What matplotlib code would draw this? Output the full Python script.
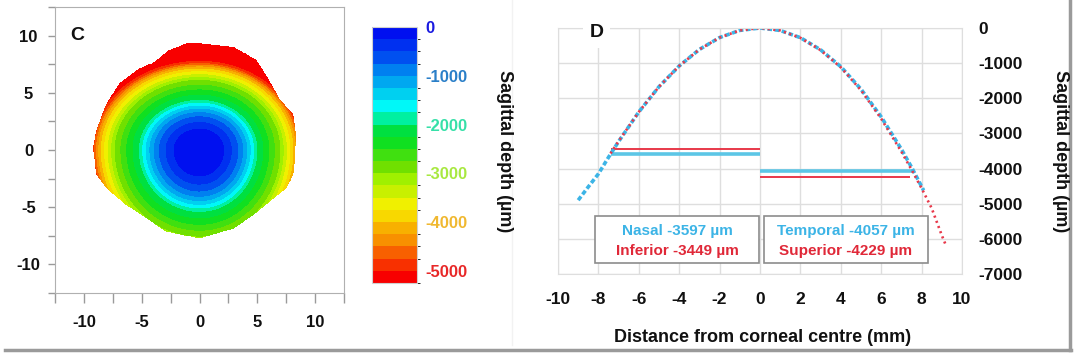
"""Corneal sagittal depth: contour map (C) and meridian profiles (D)."""

import matplotlib

matplotlib.use("Agg")
import matplotlib.pyplot as plt
import numpy as np
from matplotlib.colors import ListedColormap, BoundaryNorm
from matplotlib.lines import Line2D
from matplotlib.patches import Rectangle
from matplotlib.path import Path

plt.rcParams["font.family"] = ["Liberation Sans", "DejaVu Sans"]
plt.rcParams["font.weight"] = "bold"
plt.rcParams["axes.unicode_minus"] = False

# ---- panel C: map outline (mm)
OUTLINE_X = [0.0, 2.9, 4.9, 5.8, 7.0, 8.1, 8.3, 8.25, 8.1, 7.5, 6.4, 4.6, 2.9, 0.0,
             -2.9, -4.9, -6.3, -8.05, -8.9, -9.2, -8.9, -8.05, -6.9, -5.2, -4.0, -2.6, -1.1]
OUTLINE_Y = [9.3, 9.0, 7.85, 6.4, 4.3, 3.1, 1.4, -0.7, -2.1, -3.3, -4.2, -5.7, -6.85, -7.7,
             -7.1, -5.7, -4.8, -3.3, -2.1, 0.2, 1.7, 4.0, 5.8, 7.1, 7.6, 8.7, 9.3]

# radial depth profile (um)
RING_RADIUS = [0.0, 2.2, 3.3, 4.1, 4.8, 5.2, 6.3, 7.3, 7.9, 8.4, 8.8, 9.1, 9.5, 11.0]
RING_DEPTH = [0, -250, -650, -1100, -1650, -2000, -2500, -3000, -3500, -3900, -4350,
              -4800, -5200, -6500]
# ring squeeze per half (top / bottom / right / left)
SQUEEZE_TOP, SQUEEZE_BOTTOM, SQUEEZE_RIGHT, SQUEEZE_LEFT = 1.2, 0.97, 1.05, 1.0

LEVELS = np.arange(-5250, 1, 250)
BAND_COLORS = [  # deepest band first
    "#f80000", "#f83000", "#f86000", "#f89000", "#f8b000", "#f8d800", "#f0f000",
    "#c8f000", "#a0f000", "#70e000", "#40e010", "#10e020", "#00e040", "#00f0a0",
    "#00f8f8", "#00d0f0", "#00a8f0", "#0080f0", "#0050f0", "#0030f0", "#0010f0",
]
CBAR_TICKS = [0, -1000, -2000, -3000, -4000, -5000]
CBAR_TICK_COLORS = ["#1a1ae0", "#2a7fc8", "#36e0a8", "#a8e840", "#f0b830", "#e82828"]

# ---- panel D: meridian profiles (mm, um)
HORIZ_X = [-9, -8.5, -8, -7.5, -7, -6, -5, -4, -3, -2, -1, 0, 1, 2, 3, 4, 5, 6, 7, 7.5, 8.1]
HORIZ_D = [-4900, -4520, -4150, -3680, -3230, -2390, -1670, -1080, -610, -272, -68, 0,
           -70, -275, -620, -1100, -1740, -2530, -3450, -3960, -4620]
VERT_X = [-7.4, -7, -6, -5, -4, -3, -2, -1, 0, 1, 2, 3, 4, 5, 6, 7, 7.5, 8, 8.5, 9, 9.2]
VERT_D = [-3570, -3220, -2390, -1670, -1080, -610, -272, -68, 0, -70, -280, -630, -1120,
          -1770, -2580, -3520, -4030, -4560, -5130, -5900, -6180]

NASAL, INFERIOR, TEMPORAL, SUPERIOR = -3597, -3449, -4057, -4229
NASAL_END, TEMPORAL_END, SUPERIOR_END = -7.4, 7.55, 7.45

BLUE = "#3cb4e6"
RED = "#e8384a"
GRID = "#dedede"
INK = "#111111"


def depth_map():
    xs = np.linspace(-10, 10, 500)
    X, Y = np.meshgrid(xs, xs)
    sx = np.where(X > 0, SQUEEZE_RIGHT, SQUEEZE_LEFT)
    sy = np.where(Y > 0, SQUEEZE_TOP, SQUEEZE_BOTTOM)
    r = np.hypot(X * sx, Y * sy)
    Z = np.clip(np.interp(r, RING_RADIUS, RING_DEPTH), -5249, 0)
    outline = Path(np.column_stack([OUTLINE_X, OUTLINE_Y]))
    inside = outline.contains_points(np.column_stack([X.ravel(), Y.ravel()])).reshape(X.shape)
    return X, Y, np.ma.masked_where(~inside, Z)


def main():
    fig = plt.figure(figsize=(10.81, 3.61), dpi=100, facecolor="white")

    # ---------------- panel C
    ax = fig.add_axes([55 / 1081, 1 - 293 / 361, 289 / 1081, 286 / 361])
    X, Y, Z = depth_map()
    cmap = ListedColormap(BAND_COLORS)
    norm = BoundaryNorm(LEVELS, cmap.N)
    cs = ax.contourf(X, Y, Z, levels=LEVELS, cmap=cmap, norm=norm)
    ax.set_xlim(-12.5, 12.5)
    ax.set_ylim(-12.5, 12.5)
    ticks = np.arange(-12.5, 12.6, 2.5)
    ax.set_xticks(ticks)
    ax.set_yticks(ticks)
    lab = [f"{t:g}" if t % 5 == 0 else "" for t in ticks]
    ax.set_xticklabels(lab)
    ax.set_yticklabels(lab, ha="center")
    ax.tick_params(axis="x", direction="out", length=7.5, width=1, color="#9a9a9a",
                   pad=8, labelsize=12, labelcolor=INK)
    ax.tick_params(axis="y", direction="out", length=5, width=1, color="#9a9a9a",
                   pad=14, labelsize=12, labelcolor=INK)
    for s in ax.spines.values():
        s.set_color("#b0b0b0")
    ax.text(0.076, 0.902, "C", transform=ax.transAxes, fontsize=14, fontweight="bold",
            color=INK, ha="center", va="center")

    cax = fig.add_axes([372 / 1081, 1 - 283 / 361, 45 / 1081, 256 / 361])
    cb = fig.colorbar(cs, cax=cax, ticks=CBAR_TICKS)
    cb.outline.set_edgecolor("#d0d0d0")
    cax.tick_params(length=0, pad=6, labelsize=12)
    cax.set_yticklabels([f"{t}" for t in CBAR_TICKS])
    for t, c in zip(cax.get_yticklabels(), CBAR_TICK_COLORS):
        t.set_color(c)
    fig.text(505 / 1081, 1 - 151 / 361, "Sagittal depth (µm)", rotation=-90,
             ha="center", va="center", fontsize=13, fontweight="bold", color=INK)

    # ---------------- panel D
    ax2 = fig.add_axes([558 / 1081, 1 - 274 / 361, 404 / 1081, 246 / 361])
    ax2.set_xlim(-10, 10)
    ax2.set_ylim(-7000, 0)
    ax2.set_xticks(np.arange(-10, 11, 2))
    ax2.set_yticks(np.arange(-7000, 1, 1000))
    ax2.grid(True, color=GRID, linewidth=1)
    ax2.set_axisbelow(True)
    for s in ax2.spines.values():
        s.set_color(GRID)
    ax2.yaxis.tick_right()
    ax2.tick_params(axis="both", length=0, labelsize=12.5, labelcolor=INK)
    ax2.tick_params(axis="x", pad=13)
    ax2.tick_params(axis="y", pad=12)

    ax2.plot([NASAL_END, 0], [NASAL, NASAL], color="#5cc6e6", lw=2.6, solid_capstyle="butt")
    ax2.plot([NASAL_END, 0], [INFERIOR, INFERIOR], color=RED, lw=1.4, solid_capstyle="butt")
    ax2.plot([0, TEMPORAL_END], [TEMPORAL, TEMPORAL], color="#5cc6e6", lw=2.6,
             solid_capstyle="butt")
    ax2.plot([0, SUPERIOR_END], [SUPERIOR, SUPERIOR], color=RED, lw=1.4, solid_capstyle="butt")

    ax2.plot(HORIZ_X, HORIZ_D, color=BLUE, lw=2.6, ls=(0, (1.3, 0.7)), dash_capstyle="butt")
    ax2.plot(VERT_X, VERT_D, color=RED, lw=1.9, ls=(0, (0.8, 1.3)), dash_capstyle="butt")

    for x0, x1, top, bottom, col_top, col_bot in [
        (-8.17, -0.05, f"Nasal {NASAL} µm", f"Inferior {INFERIOR} µm", BLUE, RED),
        (0.2, 8.3, f"Temporal {TEMPORAL} µm", f"Superior {SUPERIOR} µm", BLUE, RED),
    ]:
        ax2.add_patch(Rectangle((x0, -6695), x1 - x0, 1340, facecolor="white",
                                edgecolor="#8c8c8c", lw=1.2, zorder=4))
        xc = (x0 + x1) / 2
        ax2.text(xc, -5780, top, color=col_top, fontsize=11, fontweight="bold",
                 ha="center", va="center", zorder=5)
        ax2.text(xc, -6350, bottom, color="#e02838", fontsize=11, fontweight="bold",
                 ha="center", va="center", zorder=5)

    ax2.text(-8.1, -130, "D", fontsize=14, fontweight="bold", color=INK, ha="center",
             va="center", bbox=dict(boxstyle="square,pad=0.35", fc="white", ec="none"))

    fig.text(763 / 1081, 1 - 338 / 361, "Distance from corneal centre (mm)", ha="center",
             va="center", fontsize=13, fontweight="bold", color=INK)
    fig.text(1060 / 1081, 1 - 151 / 361, "Sagittal depth (µm)", rotation=-90, ha="center",
             va="center", fontsize=13, fontweight="bold", color=INK)

    # frame shadow and faint panel separator
    fig.add_artist(Line2D([5 / 1081, 1071 / 1081], [1 - 350 / 361] * 2, color="#9a9a9a",
                          lw=2.5, transform=fig.transFigure))
    fig.add_artist(Line2D([1070 / 1081] * 2, [1 - 350 / 361, 1.0], color="#9a9a9a",
                          lw=2.5, transform=fig.transFigure))
    fig.add_artist(Line2D([512 / 1081] * 2, [1 - 345 / 361, 1.0], color="#f2f2f2",
                          lw=1, transform=fig.transFigure))

    fig.savefig("out.png", dpi=100, facecolor="white")


if __name__ == "__main__":
    main()
